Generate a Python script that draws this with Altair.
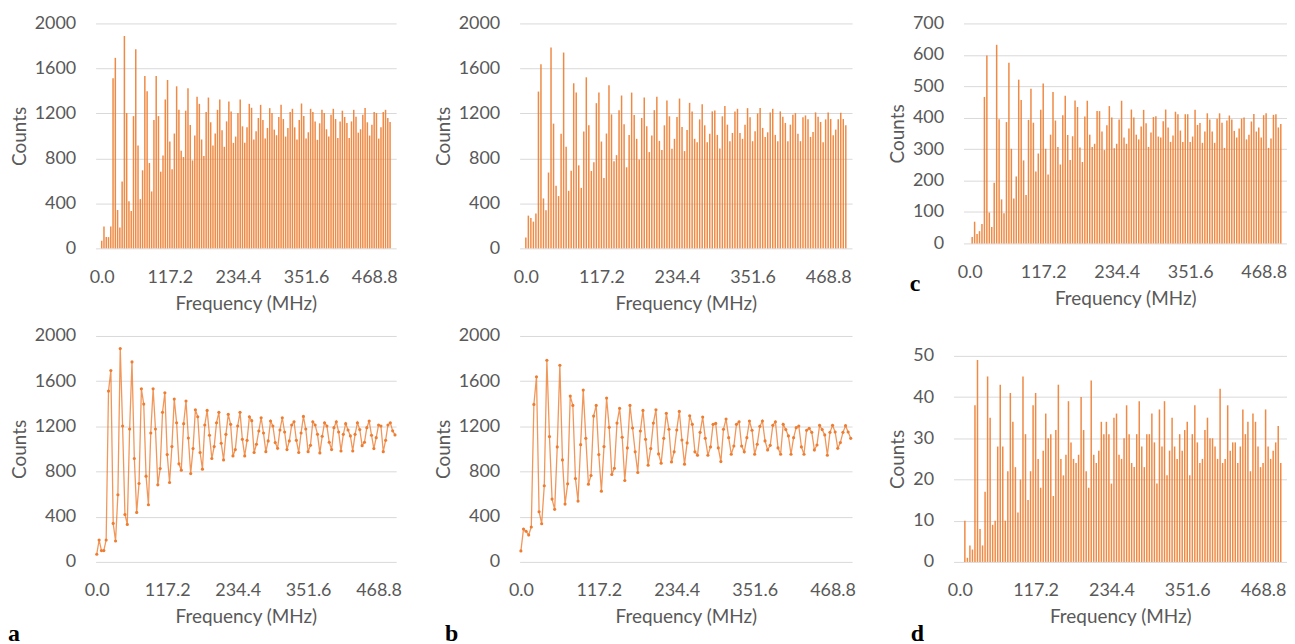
import altair as alt
import pandas as pd

STEP = 3.90625  # MHz per bin
tick_vals = [0, 117.1875, 234.375, 351.5625, 468.75]

series_a = [68, 194, 100, 100, 194, 1512, 1694, 341, 185, 594,
            1888, 1203, 420, 332, 1176, 1770, 915, 438, 694, 1532,
            1397, 759, 506, 1141, 1532, 1176, 682, 826, 1324, 1497,
            950, 703, 1021, 1441, 1232, 868, 812, 1224, 1424, 1097,
            782, 1003, 1347, 1285, 968, 821, 1212, 1341, 1121, 915,
            1021, 1232, 1324, 1050, 903, 1129, 1306, 1218, 938, 994,
            1203, 1324, 1085, 938, 1076, 1285, 1250, 968, 1041, 1159,
            1276, 1141, 976, 1071, 1247, 1203, 1056, 1006, 1168, 1276,
            1150, 994, 1071, 1212, 1241, 1076, 968, 1141, 1288, 1176,
            976, 1032, 1241, 1212, 1129, 965, 1112, 1232, 1203, 1059,
            994, 1188, 1241, 1150, 982, 1129, 1224, 1168, 1115, 982,
            1129, 1232, 1171, 1029, 1059, 1188, 1247, 1121, 1003, 1100,
            1212, 1203, 976, 1076, 1212, 1232, 1160, 1124]

series_b = [97, 291, 271, 238, 309, 1394, 1638, 444, 338, 674,
            1785, 1109, 556, 465, 1018, 1741, 903, 512, 691, 1468,
            1385, 738, 538, 1038, 1521, 1094, 688, 765, 1291, 1385,
            950, 626, 1021, 1450, 1191, 774, 829, 1229, 1359, 1103,
            721, 1009, 1385, 1185, 974, 791, 1159, 1341, 1085, 856,
            1003, 1229, 1347, 956, 874, 1094, 1315, 1174, 885, 974,
            1168, 1332, 1079, 865, 1053, 1294, 1218, 974, 944, 1147,
            1282, 1094, 944, 1018, 1218, 1226, 1009, 888, 1174, 1265,
            1100, 953, 1026, 1218, 1241, 1026, 974, 1100, 1247, 1165,
            953, 1041, 1200, 1247, 1071, 991, 1032, 1209, 1241, 1009,
            953, 1218, 1171, 1115, 953, 1100, 1188, 1203, 1018, 953,
            1165, 1182, 1147, 991, 1035, 1209, 1171, 1124, 944, 1147,
            1209, 1150, 1006, 1056, 1147, 1206, 1150, 1094]

series_c = [0, 20, 69, 30, 39, 62, 466, 598, 98, 52,
            193, 632, 395, 140, 96, 386, 575, 301, 143, 213,
            521, 456, 264, 154, 393, 492, 384, 229, 286, 425,
            509, 301, 219, 346, 482, 391, 307, 251, 408, 470,
            345, 265, 341, 455, 434, 305, 259, 404, 454, 346,
            307, 317, 421, 421, 356, 297, 376, 437, 401, 303,
            317, 394, 454, 337, 317, 366, 426, 401, 346, 331,
            372, 425, 382, 307, 353, 402, 405, 340, 337, 389,
            426, 369, 323, 343, 419, 411, 359, 323, 411, 411,
            323, 340, 425, 377, 383, 320, 356, 414, 394, 356,
            320, 397, 414, 384, 304, 391, 407, 394, 358, 337,
            366, 397, 401, 331, 346, 388, 412, 356, 369, 337,
            408, 414, 304, 334, 409, 411, 369, 380]

series_d = [0, 0, 10, 1, 4, 3, 38, 49, 8, 4,
            17, 45, 35, 9, 10, 28, 43, 28, 10, 22,
            41, 34, 23, 12, 20, 45, 31, 15, 22, 38,
            41, 25, 18, 27, 36, 30, 31, 16, 32, 43,
            25, 21, 26, 39, 29, 25, 24, 26, 40, 32,
            22, 18, 44, 26, 24, 27, 34, 31, 34, 31,
            19, 35, 36, 26, 25, 30, 38, 31, 24, 23,
            31, 39, 28, 23, 31, 31, 36, 29, 19, 37,
            28, 39, 21, 27, 35, 28, 25, 31, 27, 32,
            34, 21, 31, 38, 29, 24, 25, 32, 35, 30,
            30, 28, 25, 42, 24, 25, 38, 27, 29, 29,
            24, 28, 37, 31, 34, 22, 36, 34, 28, 23,
            24, 37, 28, 25, 27, 29, 33, 24]

ORANGE = "#ED7D31"
GRAY = "#595959"
GRID = "#D9D9D9"
FONT = "Lato"


def make_df(vals):
    return pd.DataFrame({"freq": [i * STEP for i in range(len(vals))], "count": vals})


def panel(vals, kind, w, h, ymax, ystep, letter=None, lx=0, ly=0, top_gap=0):
    df = make_df(vals)
    # top_gap: empty pixels above the top gridline (plot shorter than neighbours)
    dom_max = ymax * h / (h - top_gap)
    x = alt.X("freq:Q",
              scale=alt.Scale(domain=[-STEP / 2, 128 * STEP - STEP / 2], nice=False, zero=False),
              axis=alt.Axis(values=tick_vals, format=".1f", title="Frequency (MHz)",
                            grid=False, ticks=False, tickSize=0, domain=False,
                            labelPadding=20, titlePadding=8, labelFlush=False))
    yaxis_kw = dict(values=list(range(0, ymax + 1, ystep)), format="d", title="Counts",
                    grid=True, gridColor=GRID, gridWidth=1, ticks=False, tickSize=0,
                    domain=False, labelPadding=20, titlePadding=5)
    if top_gap:
        yaxis_kw["titleY"] = top_gap + (h - top_gap) / 2
    y = alt.Y("count:Q",
              scale=alt.Scale(domain=[0, dom_max], nice=False),
              axis=alt.Axis(**yaxis_kw))
    base = alt.Chart(df).encode(x=x, y=y)
    if kind == "bar":
        m = base.mark_bar(size=1.5, color=ORANGE, opacity=0.9)
    else:
        m = base.mark_line(color=ORANGE, strokeWidth=1.3, opacity=0.8,
                           point=alt.OverlayMarkDef(filled=True, size=10, color=ORANGE, opacity=1))
    layers = [m]
    if letter:
        layers.append(
            alt.Chart(pd.DataFrame({"t": [letter]}))
            .mark_text(font="Liberation Serif", fontWeight="bold", fontSize=24,
                       align="left", baseline="alphabetic", color="black")
            .encode(text="t:N", x=alt.value(lx), y=alt.value(ly))
        )
    return alt.layer(*layers).properties(width=w, height=h)


def spacer(w, h):
    return (alt.Chart(pd.DataFrame({"v": [0]}))
            .mark_point(opacity=0)
            .encode(x=alt.value(0), y=alt.value(0))
            .properties(width=w, height=h))


a_top = panel(series_a, "bar", 302, 226, 2000, 400)
b_top = panel(series_b, "bar", 334, 226, 2000, 400)
c_top = panel(series_c, "bar", 325, 221, 700, 100, letter="c", lx=-54, ly=269)

a_bot = panel(series_a, "line", 302, 227, 2000, 400, letter="a", lx=-88, ly=306)
b_bot = panel(series_b, "line", 334, 227, 2000, 400, letter="b", lx=-75, ly=306)
d_bot = panel(series_d, "bar", 335, 227, 50, 10, letter="d", lx=-43, ly=306, top_gap=20)

row1 = alt.hconcat(a_top, spacer(124, 10), b_top, spacer(112, 10), c_top,
                   spacing=0, bounds="flush")
row2 = alt.hconcat(a_bot, spacer(124, 10), b_bot, spacer(102, 10), d_bot,
                   spacing=0, bounds="flush")

chart = (
    alt.vconcat(row1, row2, spacing=14)
    .properties(padding={"left": 0, "top": 5, "right": 0, "bottom": 0})
    .configure_view(stroke=None)
    .configure_axis(labelFont=FONT, titleFont=FONT, labelFontSize=18, titleFontSize=19,
                    labelColor=GRAY, titleColor=GRAY, titleFontWeight="normal")
)

chart.save("out.html", embed_options={"renderer": "svg", "actions": False})
